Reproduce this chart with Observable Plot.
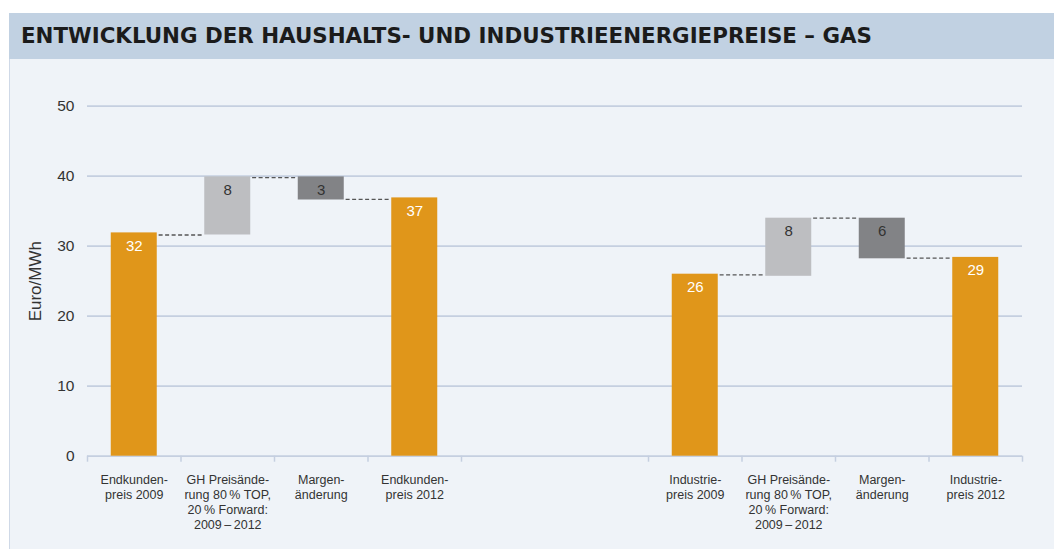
<!DOCTYPE html>
<html>
<head>
<meta charset="utf-8">
<script src="https://cdn.jsdelivr.net/npm/d3@7"></script>
<script src="https://cdn.jsdelivr.net/npm/@observablehq/plot@0.6"></script>
<style>
  html, body { margin: 0; padding: 0; background: #ffffff; }
  body { width: 1054px; height: 549px; position: relative; overflow: hidden; font-family: "Liberation Sans", Arial, sans-serif; }
  #band { position: absolute; left: 9px; top: 13px; width: 1045px; height: 46px; background: #c1d1e2; }
  #band svg { display: block; }
  #panel { position: absolute; left: 9px; top: 59px; width: 1044px; height: 490px; background: #eff3f8; border-left: 1px solid #cfd9e7; }
  #chart { position: absolute; left: 0; top: 59px; }
</style>
</head>
<body>
<div id="band">
  <svg width="1045" height="46">
    <text x="12" y="30" font-family="'Liberation Sans Narrow', 'DejaVu Sans Condensed', 'Liberation Sans', sans-serif" font-weight="bold" font-size="22" fill="#1b1b1b" textLength="851" lengthAdjust="spacingAndGlyphs">ENTWICKLUNG DER HAUSHALTS- UND INDUSTRIEENERGIEPREISE – GAS</text>
  </svg>
</div>
<div id="panel"></div>
<div id="chart"></div>
<script>
// ---- data ----
const categories = [
  "Endkunden-\npreis 2009",
  "GH Preisände-\nrung 80\u2009% TOP,\n20\u2009% Forward:\n2009\u2009–\u20092012",
  "Margen-\nänderung",
  "Endkunden-\npreis 2012",
  "",
  "",
  "Industrie-\npreis 2009",
  "GH Preisände-\nrung 80\u2009% TOP,\n20\u2009% Forward:\n2009\u2009–\u20092012",
  "Margen-\nänderung",
  "Industrie-\npreis 2012"
];
const barLow    = [0,    31.6, 36.6, 0,    null, null, 0,    25.7, 28.2, 0];
const barHigh   = [31.9, 39.9, 39.9, 36.9, null, null, 26.0, 34.0, 34.0, 28.4];
const barKind   = ["total", "up", "down", "total", null, null, "total", "up", "down", "total"];
const barLabels = ["32", "8", "3", "37", "", "", "26", "8", "6", "29"];
const connectorFrom  = [0, 1, 2, 6, 7, 8];
const connectorLevel = [31.6, 39.8, 36.7, 25.9, 34.0, 28.3];
const yTicks = [0, 10, 20, 30, 40, 50];
const yLabel = "Euro/MWh";

// ---- derived tables ----
const bars = categories.map((c, i) => ({i, low: barLow[i], high: barHigh[i], kind: barKind[i], label: barLabels[i]}))
  .filter(d => d.kind !== null);
const connectors = connectorFrom.map((f, k) => ({from: f, level: connectorLevel[k]}));
const labelRows = categories.map((c, i) => ({i, text: c})).filter(d => d.text !== "");
const boundaryTicks = [];
categories.forEach((c, i) => {
  if (c === "") return;
  if (!boundaryTicks.includes(i)) boundaryTicks.push(i);
  boundaryTicks.push(i + 1);
});

const hw = 0.246;       // half bar width in category units
const gap = 0.02;       // connector gap
const colors = {total: "#e0961a", up: "#bdbec1", down: "#828386"};
const font = "'Liberation Sans', Arial, sans-serif";

const chart = Plot.plot({
  width: 1054,
  height: 490,
  marginLeft: 87,
  marginRight: 32,
  marginTop: 46.7,
  marginBottom: 93.3,
  style: {background: "transparent", fontFamily: font, color: "#333"},
  x: {domain: [0, categories.length], axis: null},
  y: {domain: [0, 50], axis: null},
  marks: [
    Plot.ruleY(yTicks, {stroke: "#c5cfe0", strokeWidth: 1.8}),
    Plot.axisX({ticks: boundaryTicks, tickSize: 6, tickFormat: () => "", stroke: "#c5cfe0", strokeWidth: 1.5, strokeOpacity: 1}),
    Plot.axisY({ticks: yTicks, tickSize: 0, tickPadding: 13, fontSize: 15.5, label: null, fill: "#333"}),
    Plot.text([yLabel], {
      frameAnchor: "left",
      textAnchor: "middle",
      lineAnchor: "middle",
      text: d => d,
      rotate: -90,
      dx: -52,
      fontSize: 17,
      fill: "#333"
    }),
    Plot.rectY(bars, {
      x1: d => d.i + 0.5 - hw,
      x2: d => d.i + 0.5 + hw,
      y1: "low", y2: "high",
      fill: d => colors[d.kind]
    }),
    Plot.ruleY(connectors, {
      x1: d => d.from + 0.5 + hw + gap,
      x2: d => d.from + 1.5 - hw - gap,
      y: "level",
      stroke: "#555",
      strokeWidth: 1.3,
      strokeDasharray: "4,2.5"
    }),
    Plot.text(bars, {
      x: d => d.i + 0.5,
      y: "high",
      text: "label",
      dy: 13,
      fontSize: 15,
      fill: d => d.kind === "total" ? "#ffffff" : "#333333"
    }),
    Plot.text(labelRows, {
      x: d => d.i + 0.5,
      y: () => 0,
      text: "text",
      lineAnchor: "top",
      lineHeight: 1.2,
      dy: 17,
      fontSize: 12.5,
      fill: "#333"
    })
  ]
});
document.getElementById("chart").appendChild(chart);
</script>
</body>
</html>
